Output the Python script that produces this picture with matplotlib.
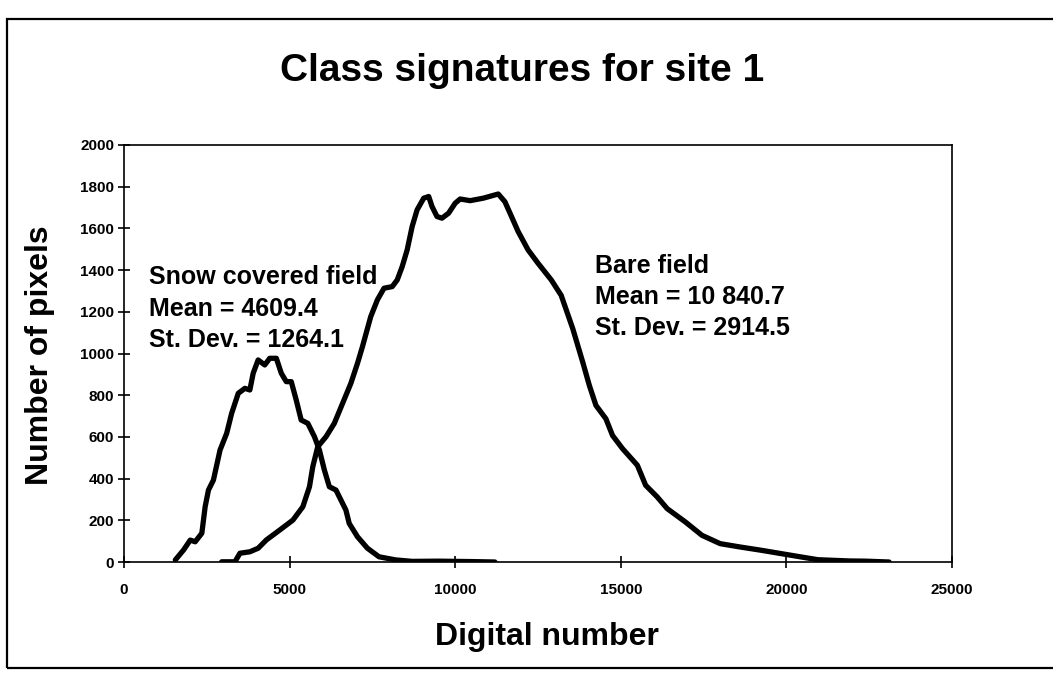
import matplotlib
matplotlib.use('Agg')
import matplotlib.pyplot as plt
import matplotlib.patches as mpatches

plt.rcParams['font.family'] = ['Liberation Sans', 'DejaVu Sans']
plt.rcParams['font.weight'] = 'bold'

# ── Data (digital number vs pixel count) ────────────────────────────────
snow_dn = [1550, 1800, 2000, 2150, 2350, 2450, 2550, 2700, 2900, 3100,
           3250, 3450, 3650, 3800, 3900, 4050, 4250, 4400, 4600, 4750,
           4900, 5050, 5200, 5350, 5550, 5750, 5900, 6050, 6200, 6400,
           6550, 6700, 6800, 7050, 7350, 7700, 8200, 8700, 9500, 10500,
           11200]
snow_px = [10, 58, 105, 97, 138, 265, 345, 393, 537, 617,
           713, 809, 833, 825, 905, 969, 945, 977, 977, 905,
           865, 865, 777, 681, 665, 601, 537, 441, 361, 345,
           297, 249, 185, 121, 66, 25, 10, 3, 4, 2,
           0]

bare_dn = [2950, 3350, 3500, 3800, 4050, 4300, 4700, 5100, 5400, 5600,
           5700, 5850, 6100, 6350, 6600, 6850, 7050, 7200, 7450, 7650,
           7850, 8100, 8250, 8400, 8550, 8700, 8850, 9050, 9200, 9300,
           9450, 9600, 9800, 10000, 10150, 10450, 10850, 11300, 11500, 11700,
           11900, 12200, 12500, 12900, 13200, 13550, 13850, 14050, 14250, 14550,
           14750, 15050, 15500, 15750, 16100, 16400, 16950, 17450, 18000, 18600,
           19250, 19850, 20450, 20950, 21900, 22400, 23100]
bare_px = [1, 1, 42, 49, 66, 106, 153, 201, 265, 361,
           457, 553, 601, 665, 761, 857, 953, 1033, 1177, 1257,
           1313, 1321, 1353, 1417, 1497, 1609, 1689, 1745, 1753, 1705,
           1657, 1649, 1673, 1721, 1741, 1733, 1745, 1765, 1728, 1657,
           1585, 1497, 1433, 1353, 1279, 1119, 959, 847, 751, 687,
           607, 544, 464, 368, 312, 256, 192, 128, 88, 72,
           56, 40, 24, 11, 5, 4, 0]

snow_lines = ['Snow covered field', 'Mean = 4609.4', 'St. Dev. = 1264.1']
bare_lines = ['Bare field', 'Mean = 10 840.7', 'St. Dev. = 2914.5']

x_ticks = [0, 5000, 10000, 15000, 20000, 25000]
y_ticks = list(range(0, 2001, 200))

# ── Figure ──────────────────────────────────────────────────────────────
W, H = 1053, 674
fig = plt.figure(figsize=(W / 100, H / 100), dpi=100)
fig.patch.set_facecolor('white')


def fx(px):
    return px / W


def fy(py):
    return 1 - py / H


ax = fig.add_axes([fx(124), fy(562), fx(952) - fx(124), fy(145) - fy(562)])

LW = 3.8
ax.plot(snow_dn, snow_px, color='black', lw=LW,
        solid_joinstyle='round', solid_capstyle='round', zorder=3)
ax.plot(bare_dn, bare_px, color='black', lw=LW,
        solid_joinstyle='round', solid_capstyle='round', zorder=3)

ax.set_xlim(0, 25000)
ax.set_ylim(0, 2000)
ax.set_xticks(x_ticks)
ax.set_yticks(y_ticks)
ax.set_xticklabels([str(v) for v in x_ticks])
ax.set_yticklabels([str(v) for v in y_ticks])

for sp in ax.spines.values():
    sp.set_linewidth(1.2)
ax.tick_params(axis='both', direction='inout', length=8, width=1.2,
               labelsize=11)
ax.tick_params(axis='x', pad=11)
ax.tick_params(axis='y', pad=3)
for t in ax.get_xticklabels() + ax.get_yticklabels():
    t.set_fontweight('bold')

# ── Annotations ─────────────────────────────────────────────────────────
TXT = 18
for txt, yy in zip(snow_lines, [277, 309, 340]):
    fig.text(fx(149), fy(yy), txt, ha='left', va='center',
             fontsize=TXT, fontweight='bold')
for txt, yy in zip(bare_lines, [266, 297, 328]):
    fig.text(fx(595), fy(yy), txt, ha='left', va='center',
             fontsize=TXT, fontweight='bold')

fig.text(fx(522), fy(71), 'Class signatures for site 1', ha='center',
         va='center', fontsize=28, fontweight='bold')
fig.text(fx(547), fy(637), 'Digital number', ha='center', va='center',
         fontsize=23, fontweight='bold')
fig.text(fx(40), fy(355), 'Number of pixels', ha='center', va='center',
         rotation=90, fontsize=23, fontweight='bold')

# outer frame of the chart area (right side runs off the page)
frame = mpatches.Rectangle((fx(7), fy(668)), fx(1070) - fx(7),
                           fy(19) - fy(668), transform=fig.transFigure,
                           fill=False, lw=1.6, edgecolor='black',
                           clip_on=False)
fig.patches.append(frame)

fig.savefig('out.png', dpi=100)
